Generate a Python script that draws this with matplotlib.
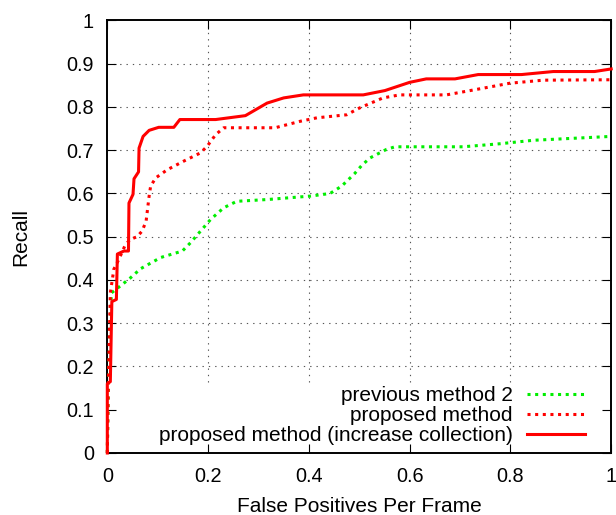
import matplotlib
matplotlib.use("Agg")
import matplotlib.pyplot as plt

plt.rcParams['font.family'] = ['Liberation Sans', 'DejaVu Sans']

# ---- data ----
x_ticks = [0, 0.2, 0.4, 0.6, 0.8, 1]
x_tick_labels = ["0", "0.2", "0.4", "0.6", "0.8", "1"]
y_ticks = [0, 0.1, 0.2, 0.3, 0.4, 0.5, 0.6, 0.7, 0.8, 0.9, 1]
y_tick_labels = ["0", "0.1", "0.2", "0.3", "0.4", "0.5", "0.6", "0.7", "0.8", "0.9", "1"]

prev2_x = [0, 0.002, 0.008, 0.03, 0.046, 0.066, 0.106, 0.149, 0.165, 0.185, 0.205,
           0.231, 0.257, 0.317, 0.403, 0.442, 0.465, 0.49, 0.505, 0.521, 0.554,
           0.571, 0.706, 0.779, 0.845, 1.0]
prev2_y = [0, 0.15, 0.37, 0.39, 0.405, 0.426, 0.452, 0.467, 0.486, 0.513, 0.54,
           0.567, 0.582, 0.586, 0.594, 0.6, 0.617, 0.645, 0.665, 0.682, 0.702,
           0.708, 0.708, 0.715, 0.723, 0.732]

prop_x = [0, 0.002, 0.006, 0.013, 0.023, 0.036, 0.046, 0.059, 0.069, 0.077, 0.083,
          0.086, 0.096, 0.119, 0.152, 0.185, 0.198, 0.215, 0.231, 0.333, 0.383,
          0.416, 0.475, 0.501, 0.547, 0.58, 0.673, 0.739, 0.799, 0.865, 1.0]
prop_y = [0, 0.16, 0.37, 0.425, 0.448, 0.482, 0.494, 0.50, 0.513, 0.536, 0.594,
          0.617, 0.636, 0.655, 0.675, 0.694, 0.709, 0.736, 0.752, 0.752, 0.767,
          0.775, 0.782, 0.798, 0.821, 0.828, 0.828, 0.842, 0.855, 0.862, 0.863]

inc_x = [0, 0.0, 0.006, 0.009, 0.018, 0.020, 0.033, 0.042, 0.043, 0.051, 0.053,
         0.062, 0.063, 0.071, 0.083, 0.102, 0.132, 0.144, 0.215, 0.274, 0.317,
         0.35, 0.389, 0.508, 0.551, 0.6, 0.633, 0.69, 0.736, 0.822, 0.885, 0.967, 1.0]
inc_y = [0, 0.16, 0.165, 0.35, 0.355, 0.46, 0.467, 0.467, 0.578, 0.598, 0.634,
         0.65, 0.705, 0.732, 0.746, 0.753, 0.753, 0.771, 0.771, 0.78, 0.809,
         0.821, 0.828, 0.828, 0.838, 0.857, 0.865, 0.865, 0.875, 0.875, 0.882, 0.882, 0.888]

labels = ["previous method 2", "proposed method", "proposed method (increase collection)"]

# ---- figure ----
fig = plt.figure(figsize=(6.16, 5.15), dpi=100)
ax = fig.add_axes([0.1742, 0.1204, 0.818, 0.8398])
ax.set_xlim(0, 1)
ax.set_ylim(0, 1)

grid_kw = dict(colors='#555555', linewidth=0.8, linestyles=(0, (1.2, 4.5)), zorder=0.5)
ax.hlines(y_ticks[2:-1], 0, 1, **grid_kw)
ax.vlines(x_ticks[1:-1], 0.164, 1, **grid_kw)

dot = (0, (1.0, 1.5))
ax.plot(prev2_x, prev2_y, color='#00ee00', lw=2.2, linestyle=dot,
        dash_capstyle='butt', label=labels[0], clip_on=False, zorder=3)
ax.plot(prop_x, prop_y, color='#ff0000', lw=2.2, linestyle=dot,
        dash_capstyle='butt', label=labels[1], clip_on=False, zorder=4)
ax.plot(inc_x, inc_y, color='#ff0000', lw=2.2, linestyle='-',
        label=labels[2], clip_on=False, zorder=5)

ax.set_xticks(x_ticks)
ax.set_xticklabels(x_tick_labels)
ax.set_yticks(y_ticks)
ax.set_yticklabels(y_tick_labels)
ax.tick_params(direction='in', length=6.5, width=0.8, top=True, right=True,
               labelsize=14.3, colors='black')
ax.tick_params(axis='x', pad=10)
ax.tick_params(axis='y', pad=9.5)
for s in ax.spines.values():
    s.set_linewidth(1.4)

ax.set_xlabel("False Positives Per Frame", fontsize=15, labelpad=8)
ax.set_ylabel("Recall", fontsize=15, labelpad=26)

leg = ax.legend(loc='lower right', bbox_to_anchor=(0.948, 0.018), markerfirst=False,
                frameon=False, fontsize=15, handlelength=2.8, handletextpad=0.68,
                labelspacing=0.05, borderpad=0, borderaxespad=0)

fig.savefig("out.png", dpi=100)
